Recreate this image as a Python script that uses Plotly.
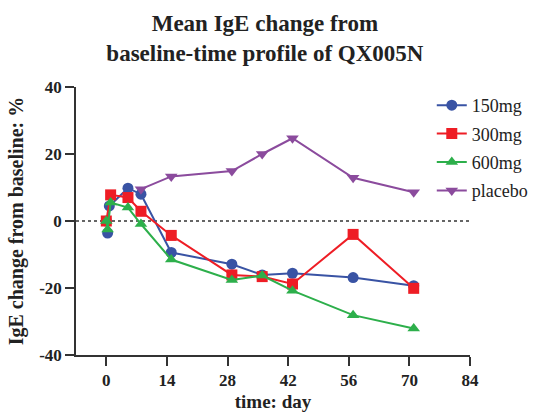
import plotly.graph_objects as go

# Study days and mean % change in IgE from baseline for each dose group
days_150 = [0, 0.3, 0.7, 5, 8, 15, 29, 36, 43, 57, 71]
ige_150 = [0, -3.6, 4.5, 9.8, 8.0, -9.4, -12.9, -16.1, -15.6, -16.9, -19.3]

days_300 = [0, 1, 5, 8, 15, 29, 36, 43, 57, 71]
ige_300 = [0, 7.8, 7.0, 2.9, -4.3, -16.1, -16.6, -18.8, -4.0, -20.1]

days_600 = [0, 0.3, 1, 5, 8, 15, 29, 36, 43, 57, 71]
ige_600 = [0, -2.5, 5.5, 4.0, -0.9, -11.5, -17.6, -16.3, -20.8, -28.1, -32.1]

days_pbo = [8, 15, 29, 36, 43, 57, 71]
ige_pbo = [9.5, 13.3, 14.9, 20.0, 24.7, 12.9, 8.6]

x_ticks = [0, 14, 28, 42, 56, 70, 84]
y_ticks = [-40, -20, 0, 20, 40]
y_tick_labels = ["-40", "-20", "0", "20", "40"]

SERIF = "Liberation Serif, Times New Roman, serif"
INK = "#222222"

series = [
    ("150mg", days_150, ige_150, "#3953A4", "circle"),
    ("300mg", days_300, ige_300, "#EE1D25", "square"),
    ("600mg", days_600, ige_600, "#2DAF4B", "triangle-up"),
    ("placebo", days_pbo, ige_pbo, "#8B4B9D", "triangle-down"),
]

fig = go.Figure()
for name, xs, ys, color, symbol in series:
    fig.add_trace(go.Scatter(
        x=xs, y=ys, name=name, mode="lines+markers",
        legendgroup=name,
        line=dict(color=color, width=2),
        marker=dict(color=color, symbol=symbol, size=11),
    ))

# dotted baseline at 0 %
fig.add_hline(y=0, line=dict(color="#333333", width=1.5, dash="dot"), layer="below")

axis_common = dict(
    showline=True, linecolor="#333333", linewidth=1.5,
    ticks="outside", ticklen=9, tickwidth=1.5, tickcolor="#333333",
    showgrid=False, zeroline=False, automargin=False,
    tickfont=dict(family=SERIF, size=17, color=INK, weight="bold"),
)

fig.update_layout(
    width=533, height=412,
    margin=dict(l=76, r=63, t=87, b=57, autoexpand=False),
    plot_bgcolor="white", paper_bgcolor="white",
    title=dict(
        text="Mean IgE change from<br>baseline-time profile of QX005N",
        x=0.497, xanchor="center", yref="container", y=0.925, yanchor="top",
        font=dict(family=SERIF, size=23, color=INK, weight="bold"),
    ),
    xaxis=dict(
        range=[-7, 84], tickvals=x_ticks,
        title=dict(text="time: day", standoff=7,
                   font=dict(family=SERIF, size=19, color=INK, weight="bold")),
        **axis_common,
    ),
    yaxis=dict(
        range=[-40, 40], tickvals=y_ticks, ticktext=y_tick_labels,
        title=dict(text="IgE change from baseline: %", standoff=10,
                   font=dict(family=SERIF, size=20, color=INK, weight="bold")),
        **axis_common,
    ),
    legend=dict(
        x=0.903, y=1.0, xanchor="left", yanchor="top",
        font=dict(family=SERIF, size=18, color=INK),
        bgcolor="rgba(0,0,0,0)", tracegroupgap=2,
    ),
)

fig.write_html("out.html")
